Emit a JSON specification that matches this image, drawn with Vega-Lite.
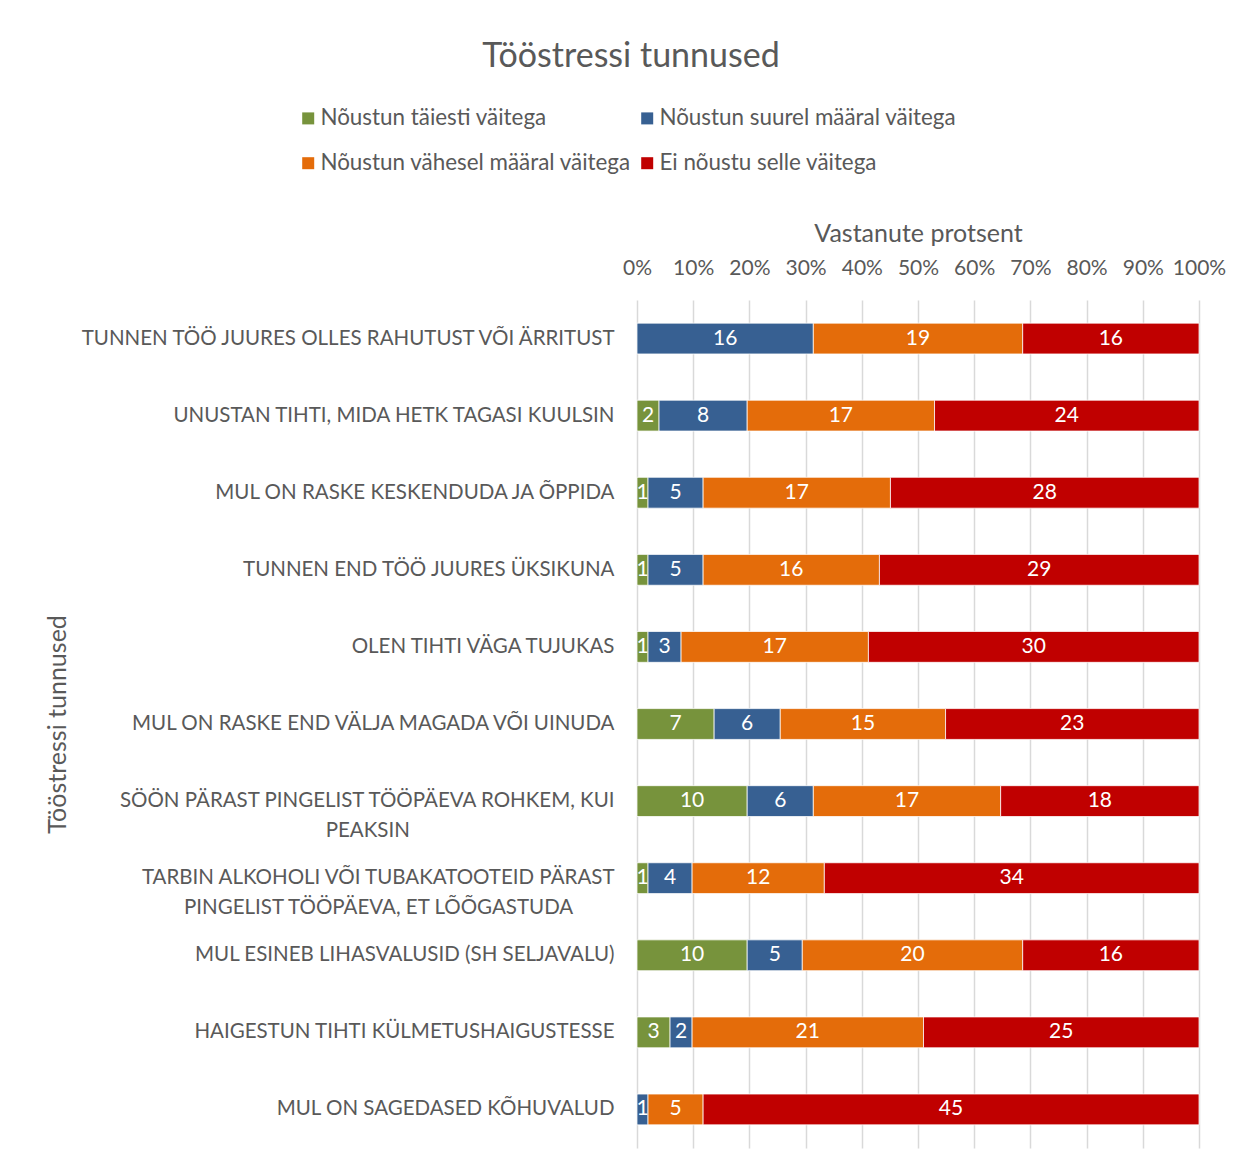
{
  "$schema": "https://vega.github.io/schema/vega-lite/v6.json",
  "autosize": {"type": "none"},
  "width": 562,
  "height": 848,
  "padding": {"left": 637, "top": 300, "right": 46, "bottom": 23},
  "background": "white",
  "title": {
    "text": "Tööstressi tunnused",
    "anchor": "middle",
    "frame": "group",
    "dx": -287,
    "offset": 33,
    "font": "Lato",
    "fontSize": 34,
    "fontWeight": "normal",
    "color": "#595959"
  },
  "data": {
    "values": [
      {"item": "TUNNEN TÖÖ JUURES OLLES RAHUTUST VÕI ÄRRITUST", "category": "Nõustun täiesti väitega", "order": 1, "count": 0},
      {"item": "TUNNEN TÖÖ JUURES OLLES RAHUTUST VÕI ÄRRITUST", "category": "Nõustun suurel määral väitega", "order": 2, "count": 16},
      {"item": "TUNNEN TÖÖ JUURES OLLES RAHUTUST VÕI ÄRRITUST", "category": "Nõustun vähesel määral väitega", "order": 3, "count": 19},
      {"item": "TUNNEN TÖÖ JUURES OLLES RAHUTUST VÕI ÄRRITUST", "category": "Ei nõustu selle väitega", "order": 4, "count": 16},
      {"item": "UNUSTAN TIHTI, MIDA HETK TAGASI KUULSIN", "category": "Nõustun täiesti väitega", "order": 1, "count": 2},
      {"item": "UNUSTAN TIHTI, MIDA HETK TAGASI KUULSIN", "category": "Nõustun suurel määral väitega", "order": 2, "count": 8},
      {"item": "UNUSTAN TIHTI, MIDA HETK TAGASI KUULSIN", "category": "Nõustun vähesel määral väitega", "order": 3, "count": 17},
      {"item": "UNUSTAN TIHTI, MIDA HETK TAGASI KUULSIN", "category": "Ei nõustu selle väitega", "order": 4, "count": 24},
      {"item": "MUL ON RASKE KESKENDUDA JA ÕPPIDA", "category": "Nõustun täiesti väitega", "order": 1, "count": 1},
      {"item": "MUL ON RASKE KESKENDUDA JA ÕPPIDA", "category": "Nõustun suurel määral väitega", "order": 2, "count": 5},
      {"item": "MUL ON RASKE KESKENDUDA JA ÕPPIDA", "category": "Nõustun vähesel määral väitega", "order": 3, "count": 17},
      {"item": "MUL ON RASKE KESKENDUDA JA ÕPPIDA", "category": "Ei nõustu selle väitega", "order": 4, "count": 28},
      {"item": "TUNNEN END TÖÖ JUURES ÜKSIKUNA", "category": "Nõustun täiesti väitega", "order": 1, "count": 1},
      {"item": "TUNNEN END TÖÖ JUURES ÜKSIKUNA", "category": "Nõustun suurel määral väitega", "order": 2, "count": 5},
      {"item": "TUNNEN END TÖÖ JUURES ÜKSIKUNA", "category": "Nõustun vähesel määral väitega", "order": 3, "count": 16},
      {"item": "TUNNEN END TÖÖ JUURES ÜKSIKUNA", "category": "Ei nõustu selle väitega", "order": 4, "count": 29},
      {"item": "OLEN TIHTI VÄGA TUJUKAS", "category": "Nõustun täiesti väitega", "order": 1, "count": 1},
      {"item": "OLEN TIHTI VÄGA TUJUKAS", "category": "Nõustun suurel määral väitega", "order": 2, "count": 3},
      {"item": "OLEN TIHTI VÄGA TUJUKAS", "category": "Nõustun vähesel määral väitega", "order": 3, "count": 17},
      {"item": "OLEN TIHTI VÄGA TUJUKAS", "category": "Ei nõustu selle väitega", "order": 4, "count": 30},
      {"item": "MUL ON RASKE END VÄLJA MAGADA VÕI UINUDA", "category": "Nõustun täiesti väitega", "order": 1, "count": 7},
      {"item": "MUL ON RASKE END VÄLJA MAGADA VÕI UINUDA", "category": "Nõustun suurel määral väitega", "order": 2, "count": 6},
      {"item": "MUL ON RASKE END VÄLJA MAGADA VÕI UINUDA", "category": "Nõustun vähesel määral väitega", "order": 3, "count": 15},
      {"item": "MUL ON RASKE END VÄLJA MAGADA VÕI UINUDA", "category": "Ei nõustu selle väitega", "order": 4, "count": 23},
      {"item": "SÖÖN PÄRAST PINGELIST TÖÖPÄEVA ROHKEM, KUI PEAKSIN", "category": "Nõustun täiesti väitega", "order": 1, "count": 10},
      {"item": "SÖÖN PÄRAST PINGELIST TÖÖPÄEVA ROHKEM, KUI PEAKSIN", "category": "Nõustun suurel määral väitega", "order": 2, "count": 6},
      {"item": "SÖÖN PÄRAST PINGELIST TÖÖPÄEVA ROHKEM, KUI PEAKSIN", "category": "Nõustun vähesel määral väitega", "order": 3, "count": 17},
      {"item": "SÖÖN PÄRAST PINGELIST TÖÖPÄEVA ROHKEM, KUI PEAKSIN", "category": "Ei nõustu selle väitega", "order": 4, "count": 18},
      {"item": "TARBIN ALKOHOLI VÕI TUBAKATOOTEID PÄRAST PINGELIST TÖÖPÄEVA, ET LÕÕGASTUDA", "category": "Nõustun täiesti väitega", "order": 1, "count": 1},
      {"item": "TARBIN ALKOHOLI VÕI TUBAKATOOTEID PÄRAST PINGELIST TÖÖPÄEVA, ET LÕÕGASTUDA", "category": "Nõustun suurel määral väitega", "order": 2, "count": 4},
      {"item": "TARBIN ALKOHOLI VÕI TUBAKATOOTEID PÄRAST PINGELIST TÖÖPÄEVA, ET LÕÕGASTUDA", "category": "Nõustun vähesel määral väitega", "order": 3, "count": 12},
      {"item": "TARBIN ALKOHOLI VÕI TUBAKATOOTEID PÄRAST PINGELIST TÖÖPÄEVA, ET LÕÕGASTUDA", "category": "Ei nõustu selle väitega", "order": 4, "count": 34},
      {"item": "MUL ESINEB LIHASVALUSID (SH SELJAVALU)", "category": "Nõustun täiesti väitega", "order": 1, "count": 10},
      {"item": "MUL ESINEB LIHASVALUSID (SH SELJAVALU)", "category": "Nõustun suurel määral väitega", "order": 2, "count": 5},
      {"item": "MUL ESINEB LIHASVALUSID (SH SELJAVALU)", "category": "Nõustun vähesel määral väitega", "order": 3, "count": 20},
      {"item": "MUL ESINEB LIHASVALUSID (SH SELJAVALU)", "category": "Ei nõustu selle väitega", "order": 4, "count": 16},
      {"item": "HAIGESTUN TIHTI KÜLMETUSHAIGUSTESSE", "category": "Nõustun täiesti väitega", "order": 1, "count": 3},
      {"item": "HAIGESTUN TIHTI KÜLMETUSHAIGUSTESSE", "category": "Nõustun suurel määral väitega", "order": 2, "count": 2},
      {"item": "HAIGESTUN TIHTI KÜLMETUSHAIGUSTESSE", "category": "Nõustun vähesel määral väitega", "order": 3, "count": 21},
      {"item": "HAIGESTUN TIHTI KÜLMETUSHAIGUSTESSE", "category": "Ei nõustu selle väitega", "order": 4, "count": 25},
      {"item": "MUL ON SAGEDASED KÕHUVALUD", "category": "Nõustun täiesti väitega", "order": 1, "count": 0},
      {"item": "MUL ON SAGEDASED KÕHUVALUD", "category": "Nõustun suurel määral väitega", "order": 2, "count": 1},
      {"item": "MUL ON SAGEDASED KÕHUVALUD", "category": "Nõustun vähesel määral väitega", "order": 3, "count": 5},
      {"item": "MUL ON SAGEDASED KÕHUVALUD", "category": "Ei nõustu selle väitega", "order": 4, "count": 45}
    ]
  },
  "transform": [
    {"filter": "datum.count > 0"},
    {"stack": "count", "groupby": ["item"], "sort": [{"field": "order", "order": "ascending"}], "offset": "normalize", "as": ["x0", "x1"]},
    {"calculate": "(datum.x0 + datum.x1) / 2", "as": "xmid"}
  ],
  "encoding": {
    "y": {
      "field": "item",
      "type": "nominal",
      "sort": null,
      "scale": {"paddingInner": 0.6, "paddingOuter": 0.3},
      "axis": {
        "title": "Tööstressi tunnused",
        "titleFont": "Lato",
        "titleFontSize": 25,
        "titleFontWeight": "normal",
        "titleColor": "#595959",
        "titlePadding": 8,
        "maxExtent": 700,
        "labelFont": "Lato",
        "labelFontSize": 20.5,
        "labelColor": "#595959",
        "labelPadding": 23,
        "labelLimit": 700,
        "labelLineHeight": 30,
        "ticks": false,
        "tickSize": 0,
        "domain": false,
        "labelExpr": "datum.value == 'SÖÖN PÄRAST PINGELIST TÖÖPÄEVA ROHKEM, KUI PEAKSIN' ? ['SÖÖN PÄRAST PINGELIST TÖÖPÄEVA ROHKEM, KUI', pad('PEAKSIN', 46, '\u00a0') + '\u2060'] : datum.value == 'TARBIN ALKOHOLI VÕI TUBAKATOOTEID PÄRAST PINGELIST TÖÖPÄEVA, ET LÕÕGASTUDA' ? ['TARBIN ALKOHOLI VÕI TUBAKATOOTEID PÄRAST', pad('PINGELIST TÖÖPÄEVA, ET LÕÕGASTUDA', 41, '\u00a0') + '\u2060'] : datum.label"
      }
    }
  },
  "layer": [
    {
      "mark": {"type": "bar", "stroke": "white", "strokeWidth": 0.75},
      "encoding": {
        "x": {
          "field": "x0",
          "type": "quantitative",
          "scale": {"domain": [0, 1], "nice": false},
          "axis": {
            "orient": "top",
            "format": ".0%",
            "values": [0, 0.1, 0.2, 0.3, 0.4, 0.5, 0.6, 0.7, 0.8, 0.9, 1],
            "title": "Vastanute protsent",
            "titleFont": "Lato",
            "titleFontSize": 25,
            "titleFontWeight": "normal",
            "titleColor": "#595959",
            "titlePadding": 11,
            "labelFont": "Lato",
            "labelFontSize": 21,
            "labelColor": "#595959",
            "labelPadding": 22,
            "labelOverlap": false,
            "labelFlush": false,
            "ticks": false,
            "tickSize": 0,
            "domain": false,
            "grid": true,
            "gridColor": "#D9D9D9",
            "gridWidth": 1.5
          }
        },
        "x2": {"field": "x1"},
        "color": {
          "field": "category",
          "type": "nominal",
          "scale": {
            "domain": ["Nõustun täiesti väitega", "Nõustun suurel määral väitega", "Nõustun vähesel määral väitega", "Ei nõustu selle väitega"],
            "range": ["#77933C", "#376092", "#E46C0A", "#C00000"]
          },
          "legend": {
            "title": null,
            "orient": "none",
            "legendX": -340,
            "legendY": -193,
            "padding": 0,
            "columns": 2,
            "direction": "horizontal",
            "symbolType": "square",
            "symbolSize": 144,
            "symbolStrokeWidth": 0,
            "labelFont": "Lato",
            "labelFontSize": 22.4,
            "labelColor": "#595959",
            "labelOffset": 1,
            "labelLimit": 0,
            "columnPadding": 4,
            "rowPadding": 22
          }
        }
      }
    },
    {
      "mark": {"type": "text", "color": "white", "font": "Lato", "fontSize": 21, "align": "center", "baseline": "middle"},
      "encoding": {
        "x": {"field": "xmid", "type": "quantitative"},
        "text": {"field": "count", "type": "quantitative"}
      }
    }
  ],
  "config": {
    "view": {"stroke": null}
  }
}
